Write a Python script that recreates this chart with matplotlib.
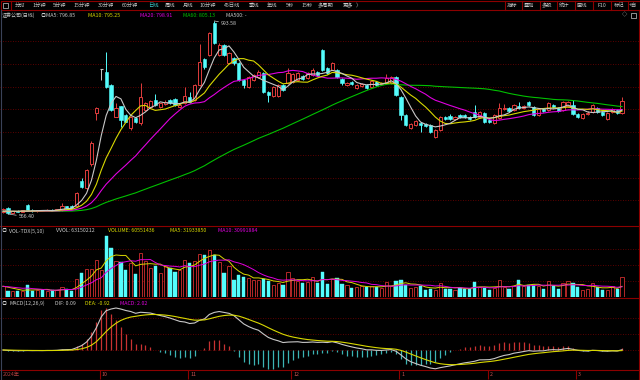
import numpy as np
import pandas as pd
import matplotlib
matplotlib.use("Agg")
import matplotlib.pyplot as plt
from matplotlib.patches import Rectangle

plt.rcParams['font.family'] = ['Noto Sans CJK SC', 'DejaVu Sans']

# 日K数据 (2024-09 ~ 2025-03), 价格点
opens = [570, 579, 569, 574, 571, 586, 576, 572, 575, 573, 576, 574, 575, 583, 585, 584, 640, 624, 676, 790,
         887, 881, 852, 781, 805, 785, 756, 779, 767, 797, 804, 818, 803, 810, 818, 821, 803, 812, 825, 819,
         852, 909, 918, 990, 918, 940, 900, 911, 900, 863, 847, 863, 869, 878, 836, 828, 828, 852, 856, 858,
         863, 872, 867, 874, 880, 929, 889, 885, 885, 865, 852, 858, 845, 850, 852, 847, 859, 855, 856, 856,
         869, 825, 785, 757, 763, 768, 766, 763, 737, 752, 781, 783, 777, 786, 786, 781, 792, 781, 790, 774,
         768, 779, 799, 801, 796, 806, 801, 814, 803, 786, 799, 796, 808, 801, 796, 806, 808, 788, 779, 788,
         792, 801, 792, 777, 792, 797, 790]
highs = [580, 581, 574, 575, 576, 588, 577, 576, 576, 577, 577, 578, 590, 585, 586, 615, 646, 666, 727, 803,
         887, 925, 853, 812, 806, 787, 784, 781, 856, 814, 819, 832, 813, 818, 820, 823, 810, 848, 836, 855,
         943, 912, 970, 993.58, 945, 943, 925, 914, 902, 865, 872, 877, 885, 880, 838, 849, 855, 854, 890, 879,
         881, 874, 880, 890, 882, 931, 891, 903, 887, 867, 858, 860, 854, 856, 854, 863, 861, 859, 876, 871,
         871, 827, 787, 768, 774, 770, 768, 765, 754, 783, 783, 788, 783, 788, 788, 783, 808, 794, 792, 776,
         788, 812, 810, 803, 810, 814, 808, 816, 805, 801, 801, 814, 810, 803, 816, 816, 819, 790, 790, 795,
         810, 803, 794, 792, 801, 799, 825]
lows = [568, 566.4, 568, 570, 570, 574, 571, 571, 572, 572, 573, 573, 574, 579, 579, 582, 624, 620, 672, 774,
        863, 845, 795, 780, 760, 769, 752, 768, 764, 795, 802, 805, 801, 808, 810, 806, 801, 810, 812, 817,
        850, 888, 915, 943, 915, 916, 898, 897, 861, 845, 845, 861, 867, 834, 814, 826, 826, 839, 854, 856,
        861, 863, 865, 872, 872, 883, 876, 884, 867, 852, 850, 852, 843, 848, 843, 845, 850, 853, 854, 854,
        828, 774, 761, 755, 761, 748, 759, 746, 735, 750, 775, 775, 775, 779, 779, 775, 779, 779, 768, 768,
        766, 777, 797, 792, 794, 799, 799, 806, 784, 784, 792, 794, 801, 792, 794, 804, 786, 779, 777, 786,
        790, 790, 784, 775, 790, 788, 788]
closes = [577, 569, 573, 571, 575, 576, 572, 575, 573, 576, 574, 577, 584, 580, 580, 612, 626, 663, 723, 801,
          887, 848, 797, 800, 774, 771, 782, 771, 826, 812, 817, 807, 811, 815, 812, 808, 808, 828, 814, 852,
          903, 892, 967, 945, 940, 918, 922, 900, 863, 852, 869, 874, 880, 836, 830, 847, 852, 841, 878, 876,
          878, 865, 878, 885, 874, 885, 878, 900, 869, 856, 856, 854, 852, 854, 845, 861, 852, 857, 867, 869,
          830, 785, 763, 766, 772, 763, 761, 748, 752, 781, 777, 777, 781, 781, 781, 777, 781, 792, 770, 770,
          786, 801, 801, 794, 808, 801, 806, 808, 786, 799, 794, 812, 803, 794, 814, 814, 788, 781, 788, 790,
          808, 792, 786, 790, 799, 790, 817]
# 成交量 (百万股)
volumes = [33, 19, 17, 17, 17, 38, 18, 22, 20, 19, 22, 20, 30, 24, 17, 56, 74, 87, 87, 113,
           84, 186, 150, 112, 106, 84, 104, 72, 135, 112, 89, 96, 74, 94, 89, 76, 84, 115, 104, 112,
           132, 130, 145, 128, 106, 74, 96, 53, 67, 61, 59, 53, 53, 56, 48, 37, 44, 38, 77, 59,
           48, 43, 46, 61, 43, 76, 40, 56, 59, 40, 38, 28, 30, 35, 30, 33, 30, 28, 46, 33,
           48, 53, 38, 28, 30, 35, 23, 26, 23, 44, 26, 26, 23, 28, 26, 25, 46, 30, 28, 23,
           28, 51, 30, 26, 35, 53, 33, 38, 36, 35, 26, 48, 33, 25, 44, 48, 44, 31, 23, 25,
           42, 30, 21, 23, 33, 26, 60.55]
# 窗口之前的横盘价位 (均线在左端的起点)
prior_level = 572

month_idx = [20, 38, 59, 81, 99, 117]
month_labels = ['10', '11', '12', '1', '2', '3']
year_label = '2024年'

toolbar_left = [('分时', 15), ('1分钟', 32), ('5分钟', 53), ('15分钟', 73), ('30分钟', 98), ('60分钟', 122),
                ('日线', 148), ('周线', 165), ('月线', 183), ('10分钟', 199), ('45日线', 224), ('季线', 249),
                ('年线', 267), ('5秒', 286), ('15秒', 301), ('多周期', 318), ('更多', 343), ('〉', 356)]
toolbar_right = [('指标', 507), ('叠加', 524), ('多股', 542), ('统计', 559), ('画线', 577),
                 ('F10', 597), ('标记', 614), ('+自', 629)]

# 颜色
RED = '#e03c3c'
VRED = '#b42828'
CYAN = '#54fcfc'
FRAME = '#8c0000'
GRID = '#7a0000'
WHITE = '#c8c8c8'
YELLOW = '#d8d800'
MAGENTA = '#e000e0'
GREEN = '#00c000'
FS = 3.8

W, H = 640, 380
fig = plt.figure(figsize=(W / 100, H / 100), dpi=100, facecolor='black')

n = len(closes)
x = np.arange(n)
step = 4.913
x_left = -3 / step
x_right = x_left + W / step


def panel(top, bottom):
    ax = fig.add_axes([0, 1 - bottom / H, 1, (bottom - top) / H])
    ax.set_xlim(x_left, x_right)
    ax.axis('off')
    return ax


def dotted(ax, fracs):
    for f in fracs:
        ax.plot([0, 1], [f, f], transform=ax.transAxes, color=GRID, lw=0.6,
                linestyle=(0, (1, 2)), zorder=0)


def ma(values, period, seed):
    ext = pd.Series([seed] * (period - 1) + list(values), dtype=float)
    return ext.rolling(period).mean().iloc[period - 1:].to_numpy()


# ---- 主图 K线 ----
ax = panel(20, 225)
ax.set_ylim(542.06, 995.7)
dotted(ax, [(225 - y) / 205 for y in [40.7, 64, 86.7, 109.3, 132.3, 155, 177.7, 200.3]])
bw = 0.66
for i in x:
    o, h, l, c = opens[i], highs[i], lows[i], closes[i]
    if c > o:
        ax.vlines(i, c, h, color=RED, lw=0.7, zorder=2)
        ax.vlines(i, l, o, color=RED, lw=0.7, zorder=2)
        ax.add_patch(Rectangle((i - bw / 2, o), bw, c - o, facecolor='black', edgecolor=RED, lw=0.7, zorder=2))
    elif c < o:
        ax.vlines(i, l, h, color=CYAN, lw=0.7, zorder=2)
        ax.add_patch(Rectangle((i - bw / 2, c), bw, o - c, facecolor=CYAN, edgecolor=CYAN, lw=0.4, zorder=2))
    else:
        ax.vlines(i, l, h, color=WHITE, lw=0.7, zorder=2)
        ax.hlines(c, i - bw / 2, i + bw / 2, color=WHITE, lw=0.8, zorder=2)

s = pd.Series(closes, dtype=float)
for period, col in [(60, GREEN), (20, MAGENTA), (10, YELLOW), (5, WHITE)]:
    ax.plot(x, ma(closes, period, prior_level), color=col, lw=0.8, zorder=3)

imax = int(np.argmax(highs))
imin = int(np.argmin(lows))
ax.annotate(f'{highs[imax]:.2f}', (imax, highs[imax]), xytext=(5, -2), textcoords='offset points',
            color=WHITE, fontsize=FS, va='center', ha='left',
            arrowprops=dict(arrowstyle='-', color=WHITE, lw=0.5, shrinkA=0, shrinkB=0))
ax.annotate(f'{lows[imin]:.2f}', (imin, lows[imin]), xytext=(8, -2), textcoords='offset points',
            color=WHITE, fontsize=FS, va='center', ha='left',
            arrowprops=dict(arrowstyle='-', color=WHITE, lw=0.5, shrinkA=0, shrinkB=0))

# ---- 成交量 ----
axv = panel(226, 297)
axv.set_ylim(0, 218)
dotted(axv, [(297 - y) / 71 for y in [249, 265, 281]])
vw = 0.66
for i in x:
    v = volumes[i]
    if closes[i] >= opens[i]:
        axv.add_patch(Rectangle((i - vw / 2, 0), vw, v, facecolor='black', edgecolor=VRED, lw=0.7, zorder=2))
    else:
        axv.add_patch(Rectangle((i - vw / 2, 0), vw, v, facecolor=CYAN, edgecolor=CYAN, lw=0.3, zorder=2))
axv.plot(x, ma(volumes, 5, volumes[0]), color=YELLOW, lw=0.7, zorder=3)
axv.plot(x, ma(volumes, 10, volumes[0]), color=MAGENTA, lw=0.7, zorder=3)

# ---- MACD ----
axm = panel(298, 370)
ema12 = s.ewm(span=12, adjust=False).mean()
ema26 = s.ewm(span=26, adjust=False).mean()
dif = ema12 - ema26
dea = dif.ewm(span=9, adjust=False).mean()
hist = 2 * (dif - dea)
top = max(dif.max(), hist.max()) * 52 / 42
axm.set_ylim(-top * 20 / 52, top)
dotted(axm, [(370 - y) / 72 for y in [317.7, 333.7]])
axm.axhline(0, color=GRID, lw=0.6, linestyle=(0, (1, 2)), zorder=0)
hcol = np.where(hist >= 0, '#c83232', '#3cb4b4')
axm.vlines(x, 0, hist, colors=hcol, lw=0.9, zorder=2)
axm.plot(x, dif, color=WHITE, lw=0.8, zorder=3)
axm.plot(x, dea, color=YELLOW, lw=0.8, zorder=3)

# ---- 日期轴 ----
axd = panel(370, 380)
axd.set_ylim(1, 0)
for i, lab in zip(month_idx, month_labels):
    axd.vlines(i - 0.3, 0, 0.9, color=FRAME, lw=0.8)
    axd.text(i + 0.1, 0.5, lab, color='#c85050', fontsize=FS, va='center', ha='left')
axd.text(0, 0.5, year_label, color='#b04040', fontsize=FS, va='center', ha='left')

# ---- 边框、工具栏、文字 ----
ov = fig.add_axes([0, 0, 1, 1], zorder=10)
ov.set_xlim(0, W)
ov.set_ylim(H, 0)
ov.axis('off')
ov.add_patch(Rectangle((0.5, 0.5), W - 1, 9.5, fill=False, edgecolor=FRAME, lw=0.8))
for sx in [11, 505, 522, 539.5, 557, 574.5, 592.5, 611, 627.5]:
    ov.plot([sx, sx], [0.5, 10], color=FRAME, lw=0.8)
ov.add_patch(Rectangle((3, 2.5), 5, 5, fill=False, edgecolor=WHITE, lw=0.5))
for lab, px in toolbar_left:
    ov.text(px, 5.3, lab, color='#3cc8c8' if lab == '日线' else WHITE, fontsize=FS, va='center', ha='left')
for lab, px in toolbar_right:
    ov.text(px, 5.3, lab, color=WHITE, fontsize=FS, va='center', ha='left')

ov.text(2, 15.3, '证券公司(日线)', color=WHITE, fontsize=3.6, va='center', ha='left')
for px, lab, col in [(40.5, '◎', WHITE), (46, 'MA5: 796.85', WHITE),
                     (88, 'MA10: 795.25', YELLOW), (140, 'MA20: 798.91', MAGENTA),
                     (183, 'MA60: 805.13', GREEN), (226, 'MA500: -', WHITE), (622, '◇', WHITE)]:
    ov.text(px, 15.3, lab, color=col, fontsize=FS, va='center', ha='left')
ov.add_patch(Rectangle((631, 12.8), 5, 5, fill=False, edgecolor=WHITE, lw=0.5))

for px, lab, col in [(1.5, '◎', WHITE), (9, 'VOL-TDX(5,10)', WHITE), (56, 'VVOL: 63150212', WHITE),
                     (108, 'VOLUME: 60551436', YELLOW), (170, 'MA5: 31933850', YELLOW),
                     (218, 'MA10: 30991884', MAGENTA)]:
    ov.text(px, 231, lab, color=col, fontsize=FS, va='center', ha='left')

for px, lab, col in [(1.5, '◎', WHITE), (9, 'MACD(12,26,9)', WHITE), (55, 'DIF: 0.09', WHITE),
                     (85, 'DEA: -0.92', YELLOW), (120, 'MACD: 2.02', MAGENTA)]:
    ov.text(px, 303.3, lab, color=col, fontsize=FS, va='center', ha='left')

for yy in [225.5, 297.8, 370, 379.5]:
    ov.plot([0, W], [yy, yy], color=FRAME, lw=0.8)
ov.plot([1, 1], [10, 380], color='#3a4258', lw=0.8)
ov.plot([639.3, 639.3], [10, 380], color=FRAME, lw=0.8)

fig.savefig('out.png', dpi=100, facecolor='black')
